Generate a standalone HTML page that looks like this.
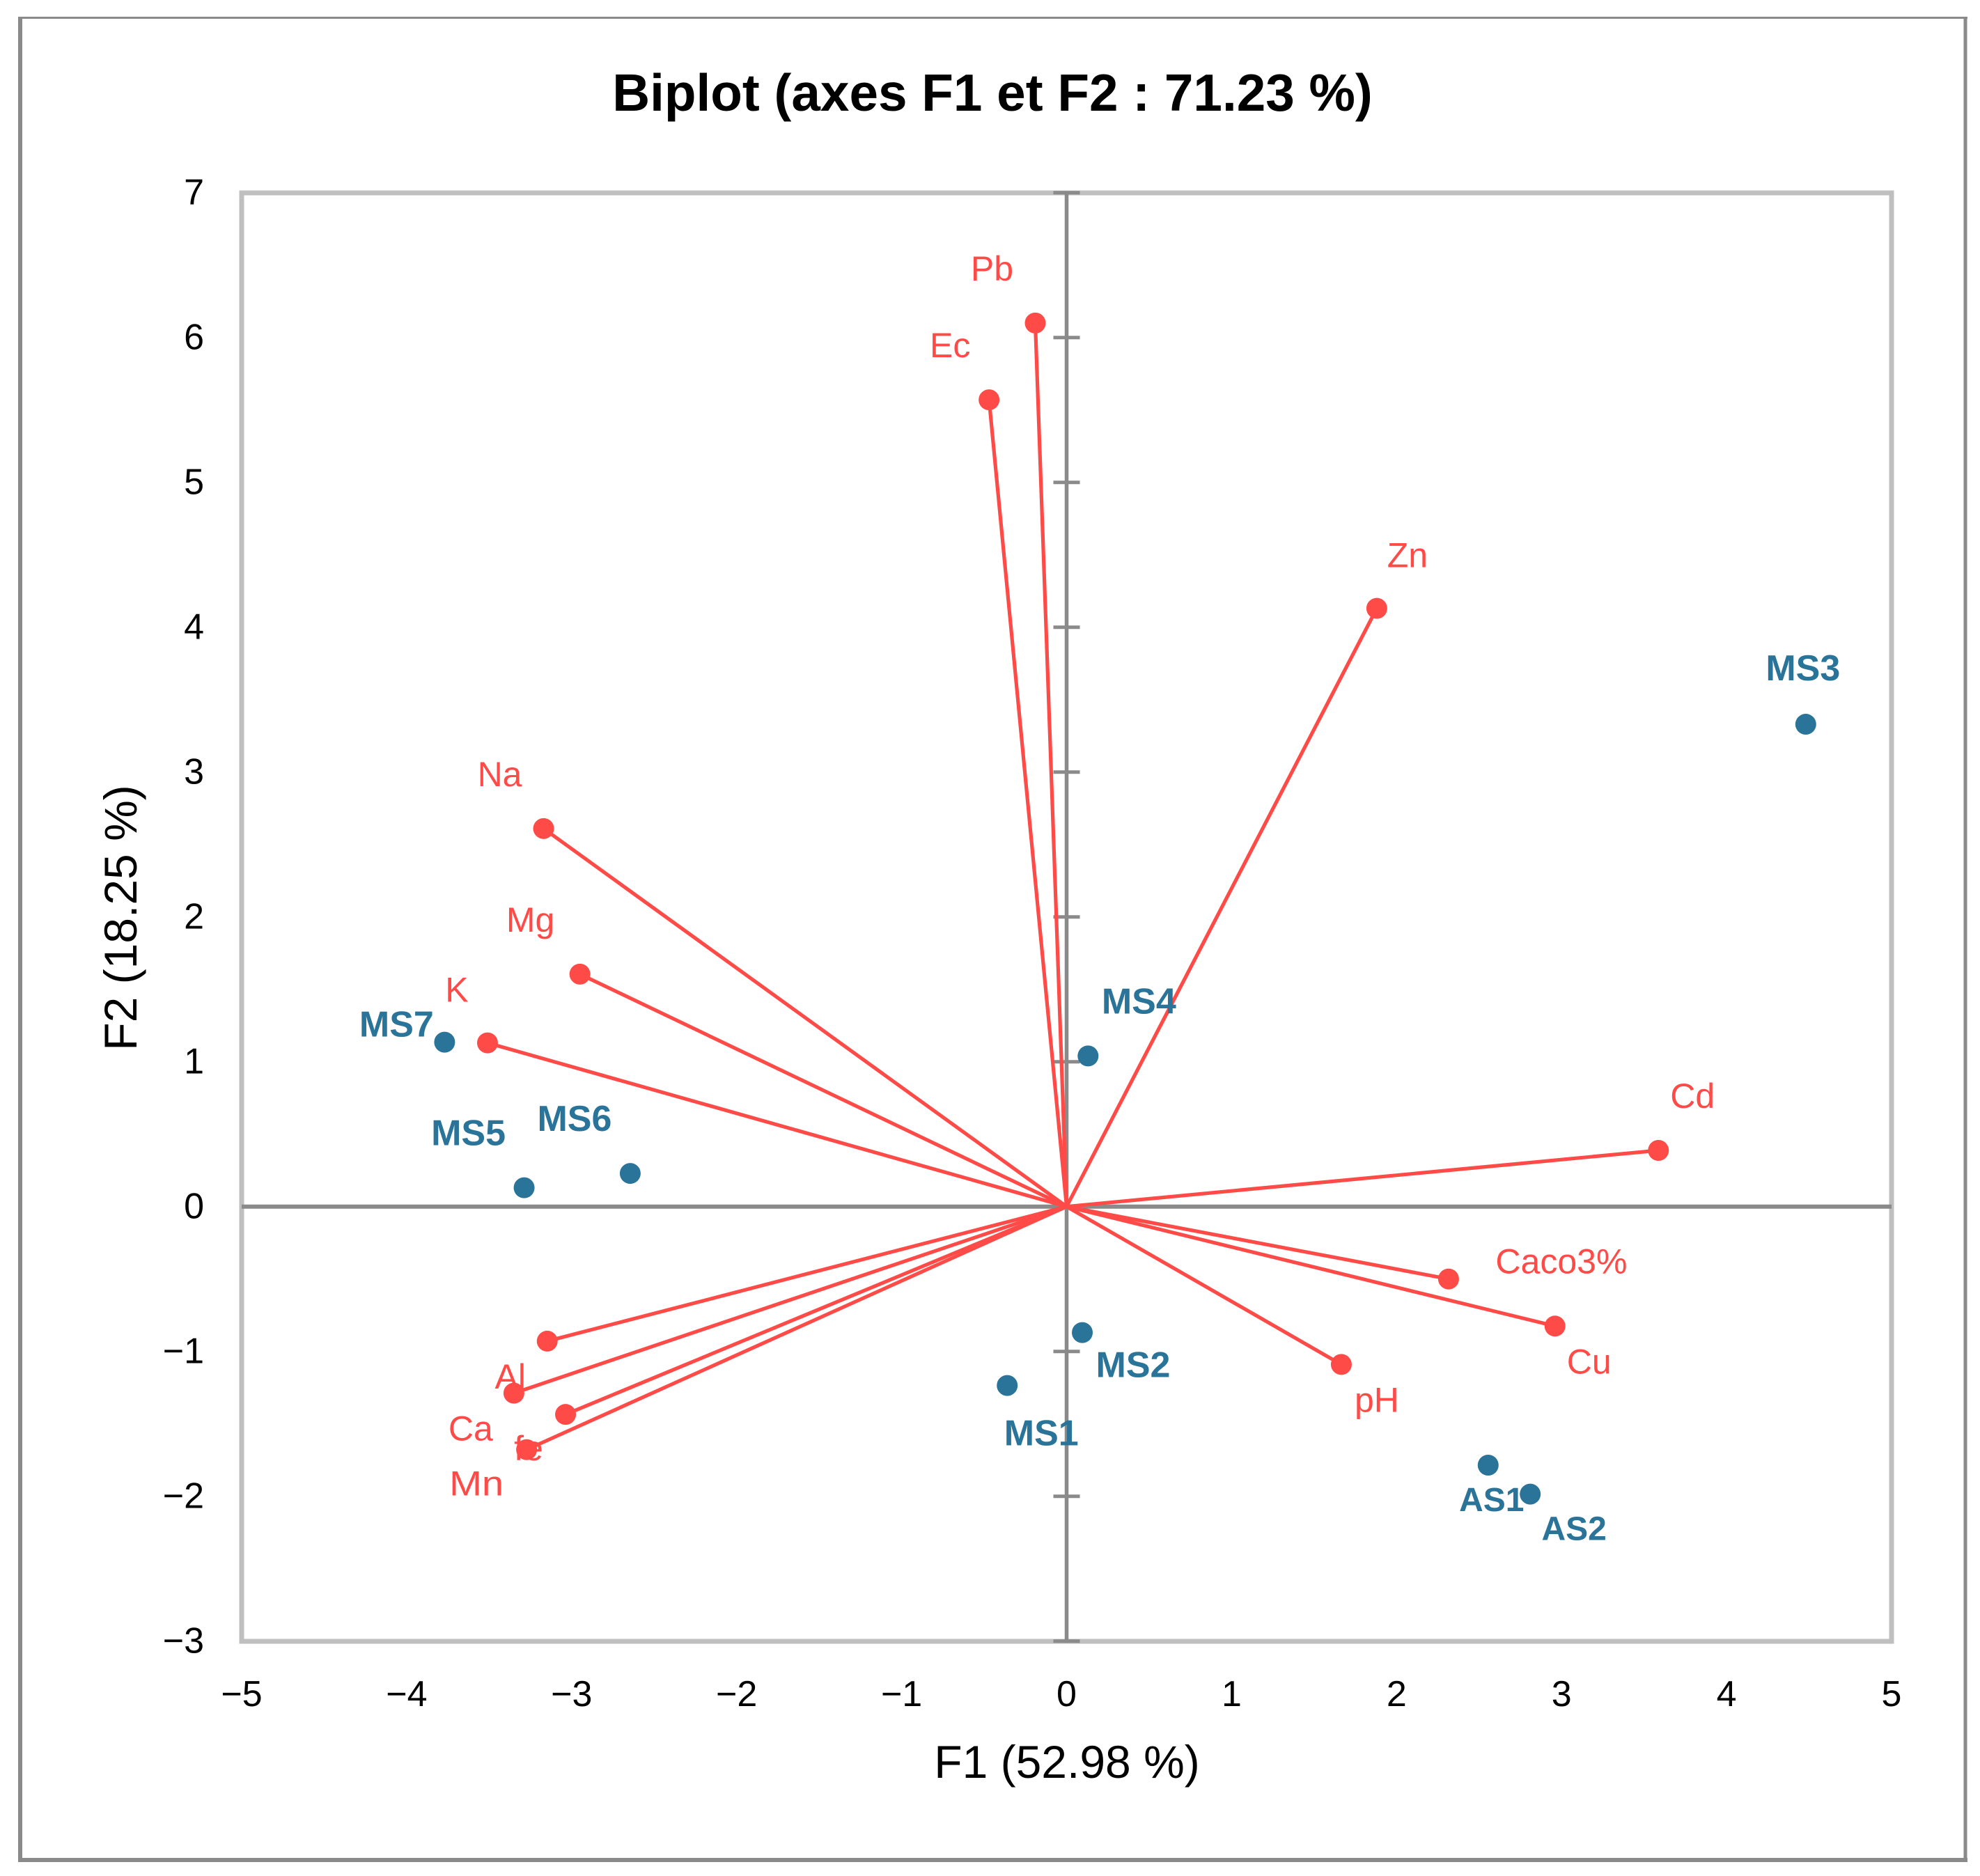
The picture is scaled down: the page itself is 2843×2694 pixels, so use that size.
<!DOCTYPE html>
<html lang="fr">
<head>
<meta charset="utf-8">
<title>Biplot (axes F1 et F2 : 71.23 %)</title>
<style>
html,body{margin:0;padding:0;background:#fff;}
svg{display:block;}
text{font-family:"Liberation Sans",sans-serif;}
</style>
</head>
<body>
<svg id="chart" xmlns="http://www.w3.org/2000/svg" width="2843" height="2694" viewBox="0 0 2843 2694">
  <rect x="0" y="0" width="2843" height="2694" fill="#ffffff"/>
  <g stroke="#8a8a8a" fill="none">
    <line x1="29" y1="24" x2="29" y2="2674" stroke-width="6"/>
    <line x1="26" y1="25.5" x2="2825" y2="25.5" stroke-width="3"/>
    <line x1="2822" y1="24" x2="2822" y2="2674" stroke-width="5"/>
    <line x1="26" y1="2671" x2="2825" y2="2671" stroke-width="6"/>
  </g>
  <text x="1425" y="159" text-anchor="middle" font-size="74.7" font-weight="bold" fill="#000000">Biplot (axes F1 et F2 : 71.23 %)</text>
  <text x="1532" y="2553" text-anchor="middle" font-size="66" fill="#000000">F1 (52.98 %)</text>
  <text transform="translate(196 1318) rotate(-90)" text-anchor="middle" font-size="66" fill="#000000">F2 (18.25 %)</text>
  <rect x="347" y="277" width="2369" height="2080" fill="none" stroke="#bfbfbf" stroke-width="7"/>
  <g id="axes"></g>
  <g id="vectors"></g>
  <g id="observations"></g>
  <g id="labels"></g>
</svg>
<script>
const xTicks = [-5, -4, -3, -2, -1, 0, 1, 2, 3, 4, 5];
const yTicks = [-3, -2, -1, 0, 1, 2, 3, 4, 5, 6, 7];

const variableNames = ['Pb', 'Ec', 'Zn', 'Na', 'Mg', 'K', 'Cd', 'Caco3%', 'Cu', 'pH', 'Al', 'Ca', 'fe', 'Mn'];
const variableF1 = [-0.19, -0.47, 1.88, -3.17, -2.95, -3.51, 3.587, 2.315, 2.96, 1.665, -3.148, -3.35, -3.037, -3.273];
const variableF2 = [6.10, 5.57, 4.13, 2.61, 1.605, 1.13, 0.388, -0.50, -0.825, -1.09, -0.929, -1.288, -1.435, -1.678];

const observationNames = ['MS3', 'MS4', 'MS7', 'MS5', 'MS6', 'MS2', 'MS1', 'AS1', 'AS2'];
const observationF1 = [4.48, 0.13, -3.77, -3.288, -2.645, 0.095, -0.36, 2.555, 2.81];
const observationF2 = [3.33, 1.04, 1.135, 0.13, 0.229, -0.87, -1.235, -1.785, -1.985];

const NS = 'http://www.w3.org/2000/svg';
const RED = '#ff4b48';
const BLUE = '#2a7399';
const AXIS = '#8a8a8a';

function scaleX(v) { return 1531.5 + v * 236.9; }
function scaleY(v) { return 1732.7 - v * 208; }

function make(tag, attrs, parent, text) {
  const el = document.createElementNS(NS, tag);
  for (const k in attrs) el.setAttribute(k, attrs[k]);
  if (text !== undefined) el.textContent = text;
  parent.appendChild(el);
  return el;
}
function fmt(v) { return v < 0 ? '\u2212' + Math.abs(v) : String(v); }

function drawAxes() {
  const g = document.getElementById('axes');
  const xAxis = make('line', { x1: scaleX(-5), y1: scaleY(0), x2: scaleX(5), y2: scaleY(0), stroke: AXIS, 'stroke-width': 6 }, g);
  
  
  const yAxis = make('line', { x1: scaleX(0), y1: scaleY(7), x2: scaleX(0), y2: scaleY(-3), stroke: AXIS, 'stroke-width': 5.5 }, g);
  
  

  yTicks.forEach(function (t) {
    const mark = make('line', { x1: scaleX(0) - 19, x2: scaleX(0) + 19, y1: scaleY(t), y2: scaleY(t), stroke: AXIS, 'stroke-width': 5 }, g);
    
    
    const label = make('text', { x: 293, y: scaleY(t) + 17, 'text-anchor': 'end', 'font-size': 52, fill: '#000000' }, g, fmt(t));
    
    
  });
  xTicks.forEach(function (t) {
    const label = make('text', { x: scaleX(t), y: 2450, 'text-anchor': 'middle', 'font-size': 52, fill: '#000000' }, g, fmt(t));
    
    
  });
}

function labelOffset(name) {
  const offsets = {
    'Pb': [-62, -78], 'Ec': [-56, -78], 'Zn': [44, -76], 'Na': [-63, -78], 'Mg': [-71, -78],
    'K': [-44, -76], 'Cd': [49, -78], 'Caco3%': [162, -25], 'Cu': [49, 51], 'pH': [51, 51],
    'Al': [-53, 51], 'Ca': [-62, 51], 'fe': [-53, 49], 'Mn': [-72, 49],
    'MS3': [-4, -80], 'MS4': [73, -78], 'MS7': [-69, -25], 'MS5': [-80, -78], 'MS6': [-80, -78],
    'MS2': [73, 47], 'MS1': [49, 69], 'AS1': [5, 49], 'AS2': [63, 49]
  };
  return offsets[name];
}

function drawVectors() {
  const g = document.getElementById('vectors');
  const lg = document.getElementById('labels');
  variableNames.forEach(function (name, i) {
    const px = scaleX(variableF1[i]);
    const py = scaleY(variableF2[i]);
    const line = make('line', { x1: scaleX(0), y1: scaleY(0), x2: px, y2: py, stroke: RED, 'stroke-width': 5.2 }, g);
    
    
  });
  variableNames.forEach(function (name, i) {
    const px = scaleX(variableF1[i]);
    const py = scaleY(variableF2[i]);
    const dot = make('circle', { cx: px, cy: py, r: 15, fill: RED }, g);
    
    
    const off = labelOffset(name);
    const label = make('text', { x: px + off[0], y: py + off[1] + 17, 'text-anchor': 'middle', 'font-size': 50, fill: RED }, lg, name);
    
    
    if (name === 'Mn') {
      label.setAttribute('textLength', '78');
      label.setAttribute('lengthAdjust', 'spacingAndGlyphs');
    }
  });
}

function drawObservations() {
  const g = document.getElementById('observations');
  const lg = document.getElementById('labels');
  observationNames.forEach(function (name, i) {
    const px = scaleX(observationF1[i]);
    const py = scaleY(observationF2[i]);
    const dot = make('circle', { cx: px, cy: py, r: 15, fill: BLUE }, g);
    
    
    const off = labelOffset(name);
    const size = name.indexOf('MS') === 0 ? 52 : 48;
    const label = make('text', { x: px + off[0], y: py + off[1] + 17, 'text-anchor': 'middle', 'font-size': size, 'font-weight': 'bold', fill: BLUE }, lg, name);
    
    
  });
}

drawAxes();
drawVectors();
drawObservations();
</script>
</body>
</html>
